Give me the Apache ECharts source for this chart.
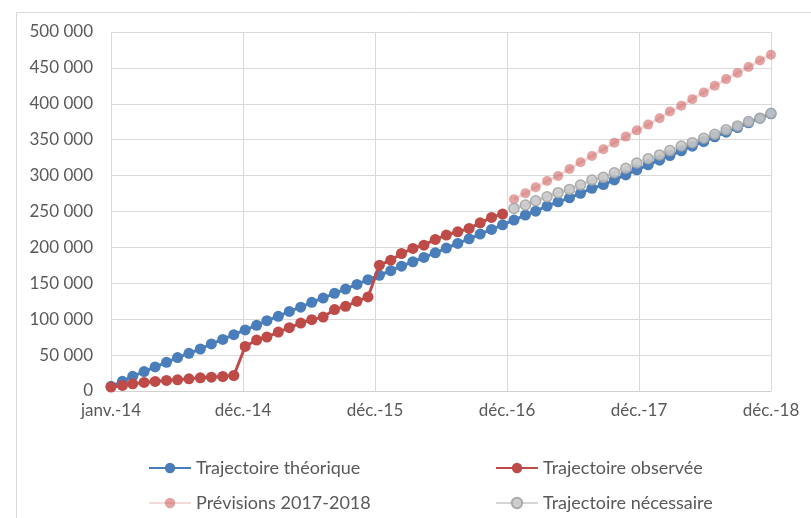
<!DOCTYPE html>
<html>
<head>
<meta charset="utf-8">
<script src="https://cdn.jsdelivr.net/npm/echarts@6/dist/echarts.min.js"></script>
<style>
  html, body { margin: 0; padding: 0; background: #fff; }
  #main { width: 811px; height: 518px; }
</style>
</head>
<body>
<div id="main"></div>
<script>
// monthly points, janv. 2014 -> déc. 2018
var startYear = 2014;
var xTickLabels = ['janv.-14', 'déc.-14', 'déc.-15', 'déc.-16', 'déc.-17', 'déc.-18'];

var theorique = [
  6500, 13500, 20500, 27000, 33500, 40000, 46500, 52500, 58500, 65500, 71800, 78500,
  85000, 91500, 98000, 104000, 110800, 116800, 123500, 129500, 136000, 142000, 148500, 155000,
  161200, 167500, 173800, 180000, 186000, 192500, 199000, 205500, 212000, 218500, 225000, 231500,
  238000, 245000, 250500, 257500, 263500, 269000, 275300, 282300, 287500, 294000, 301000, 308000,
  315000, 321500, 328000, 334500, 341000, 347500, 354000, 360500, 367000, 373500, 380000, 386000
];
var observee = [
  5500, 7700, 10000, 11900, 13300, 14700, 15600, 17000, 18400, 19300, 20200, 21600,
  62000, 71000, 75200, 82100, 88200, 94600, 99400, 103000, 113400, 118000, 124900, 131000,
  175200, 182200, 191500, 198500, 203100, 211100, 217100, 221700, 226400, 234200, 241800, 246400
];
// 2017-2018 (starts at month 36)
var previsions = [
  266900, 275300, 283700, 292500, 299400, 309200, 318600, 327400, 336700, 345900, 354300, 363000,
  371000, 379900, 389300, 397200, 406500, 415800, 425100, 434400, 442800, 451200, 460400, 468400
];
var necessaire = [
  254300, 259000, 265000, 270600, 276200, 280800, 286900, 293900, 297600, 304000, 310200, 317500,
  323500, 328800, 334800, 341300, 345900, 352100, 357600, 363700, 369200, 375200, 379900, 386900
];

// jours depuis le 1er janvier 2014 (axe date type Excel)
function dayOf(i) {
  return (Date.UTC(startYear, i, 1) - Date.UTC(startYear, 0, 1)) / 86400000;
}
function toPoints(arr, offset) {
  var out = [];
  for (var i = 0; i < arr.length; i++) {
    out.push([dayOf(i + offset), arr[i]]);
  }
  return out;
}
var lastDay = dayOf(59);

var FONT = 'Lato';
var myChart = echarts.init(document.getElementById('main'));

function legendAt(name, left, top) {
  return {
    data: [name], left: left, top: top, padding: 0,
    itemWidth: 42, itemHeight: 13,
    textStyle: { fontFamily: FONT, fontSize: 18, color: '#595959' }
  };
}

myChart.setOption({
  animation: false,
  graphic: [
    { type: 'line', shape: { x1: 16.5, y1: 12.5, x2: 811, y2: 12.5 }, style: { stroke: '#d9d9d9', lineWidth: 1 } },
    { type: 'line', shape: { x1: 16.5, y1: 12.5, x2: 16.5, y2: 518 }, style: { stroke: '#d9d9d9', lineWidth: 1 } }
  ],
  legend: [
    legendAt('Trajectoire théorique', 148, 459),
    legendAt('Trajectoire observée', 495, 459),
    legendAt('Prévisions 2017-2018', 148, 494),
    legendAt('Trajectoire nécessaire', 495, 494)
  ],
  grid: { left: 111, right: 40, top: 32, bottom: 127 },
  xAxis: {
    type: 'value',
    min: 0,
    max: lastDay,
    interval: lastDay / 5,
    axisLine: { show: true, lineStyle: { color: '#d0d0d0', width: 1 } },
    axisTick: { show: false },
    splitLine: { show: true, lineStyle: { color: '#d9d9d9', width: 1 } },
    axisLabel: {
      margin: 11,
      fontFamily: FONT, fontSize: 17, color: '#595959',
      showMinLabel: true, showMaxLabel: true,
      formatter: function (v, idx) {
        return xTickLabels[Math.round(v / (lastDay / 5))];
      }
    }
  },
  yAxis: {
    type: 'value',
    min: 0, max: 500000, interval: 50000,
    axisLine: { show: false },
    axisTick: { show: false },
    splitLine: { lineStyle: { color: '#d9d9d9', width: 1 } },
    axisLabel: {
      margin: 18,
      fontFamily: FONT, fontSize: 17, color: '#595959',
      formatter: function (v) {
        return String(v).replace(/\B(?=(\d{3})+(?!\d))/g, ' ');
      }
    }
  },
  series: [
    {
      name: 'Trajectoire théorique', type: 'line',
      data: toPoints(theorique, 0),
      symbol: 'circle', symbolSize: 11, showAllSymbol: true,
      lineStyle: { color: '#4a7ebb', width: 3 },
      itemStyle: { color: '#4a7ebb' },
      z: 2
    },
    {
      name: 'Trajectoire observée', type: 'line',
      data: toPoints(observee, 0),
      symbol: 'circle', symbolSize: 11, showAllSymbol: true,
      lineStyle: { color: '#be4b48', width: 3 },
      itemStyle: { color: '#be4b48' },
      z: 3
    },
    {
      name: 'Prévisions 2017-2018', type: 'line',
      data: toPoints(previsions, 36),
      symbol: 'circle', symbolSize: 10, showAllSymbol: true,
      lineStyle: { color: 'rgba(192,80,77,0.2)', width: 3 },
      itemStyle: { color: 'rgba(204,90,88,0.55)' },
      z: 4
    },
    {
      name: 'Trajectoire nécessaire', type: 'line',
      data: toPoints(necessaire, 36),
      symbol: 'circle', symbolSize: 10, showAllSymbol: true,
      lineStyle: { color: 'rgba(165,165,165,0.45)', width: 3 },
      itemStyle: { color: 'rgba(200,200,200,0.85)', borderColor: 'rgba(165,165,165,0.9)', borderWidth: 1.5 },
      z: 4
    }
  ]
});
</script>
</body>
</html>
